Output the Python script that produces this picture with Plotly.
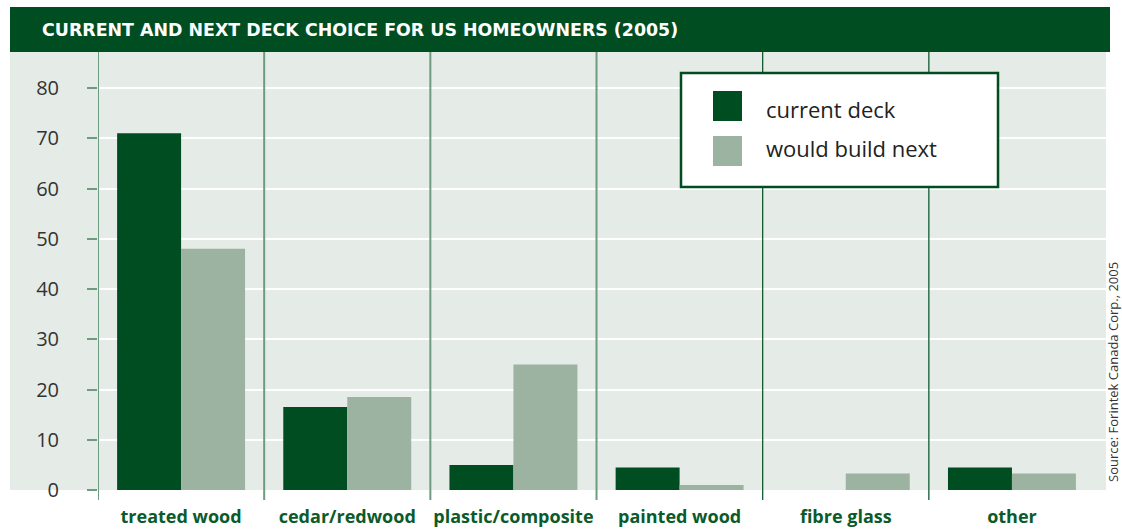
import plotly.graph_objects as go

categories = ["treated wood", "cedar/redwood", "plastic/composite", "painted wood", "fibre glass", "other"]
current_deck = [71, 16.5, 5, 4.5, 0, 4.5]
would_build_next = [48, 18.5, 25, 1, 3.3, 3.3]
y_ticks = [0, 10, 20, 30, 40, 50, 60, 70, 80]

DARK = "#004d22"
LIGHT = "#9bb3a0"
BG = "#e5ebe6"
SEP = "#6e9c7f"

W, H = 1122, 529
L, R, T, B = 98, 1106, 52, 490


def px(x):
    return (x - L) / (R - L)


def py(y):
    return (B - y) / (B - T)


fig = go.Figure()
fig.add_trace(go.Bar(x=categories, y=current_deck, name="current deck",
                     marker=dict(color=DARK, line=dict(width=0))))
fig.add_trace(go.Bar(x=categories, y=would_build_next, name="would build next",
                     marker=dict(color=LIGHT, line=dict(width=0))))

shapes = []
shapes.append(dict(type="rect", xref="paper", yref="paper", x0=px(10), x1=px(R), y0=0, y1=1,
                   fillcolor=BG, line=dict(width=0), layer="below"))
shapes.append(dict(type="rect", xref="paper", yref="paper", x0=px(10), x1=px(1110), y0=1, y1=py(7),
                   fillcolor=DARK, line=dict(width=0), layer="above"))
for i in range(len(categories)):
    col = SEP if i < 4 else DARK
    wd = 2 if i < 4 else 1.2
    shapes.append(dict(type="line", xref="x", yref="paper", x0=i - 0.5, x1=i - 0.5,
                       y0=py(500), y1=1, line=dict(color=col, width=wd), layer="above"))
shapes.append(dict(type="rect", xref="paper", yref="paper", x0=px(681), x1=px(998), y0=py(187), y1=py(73),
                   fillcolor="white", line=dict(color=DARK, width=2.5), layer="above"))
shapes.append(dict(type="rect", xref="paper", yref="paper", x0=px(713), x1=px(742), y0=py(121), y1=py(91),
                   fillcolor=DARK, line=dict(width=0), layer="above"))
shapes.append(dict(type="rect", xref="paper", yref="paper", x0=px(713), x1=px(742), y0=py(166), y1=py(136),
                   fillcolor=LIGHT, line=dict(width=0), layer="above"))

annotations = [
    dict(text="CURRENT AND NEXT DECK CHOICE FOR US HOMEOWNERS (2005)", xref="paper", yref="paper",
         x=px(40), y=py(30), xanchor="left", yanchor="middle", showarrow=False,
         font=dict(family="DejaVu Sans", size=17.4, color="white", weight=700)),
    dict(text="current deck", xref="paper", yref="paper", x=px(764), y=py(109),
         xanchor="left", yanchor="middle", showarrow=False,
         font=dict(family="Open Sans", size=22, color="#222222")),
    dict(text="would build next", xref="paper", yref="paper", x=px(764), y=py(148),
         xanchor="left", yanchor="middle", showarrow=False,
         font=dict(family="Open Sans", size=22, color="#222222")),
    dict(text="Source: Forintek Canada Corp., 2005", xref="paper", yref="paper", x=px(1113), y=py(372),
         xanchor="center", yanchor="middle", showarrow=False, textangle=-90,
         font=dict(family="Open Sans", size=13, color="#333333")),
]

fig.update_layout(
    width=W, height=H,
    margin=dict(l=L, r=W - R, t=T, b=H - B, pad=0),
    paper_bgcolor="white", plot_bgcolor=BG,
    barmode="group", bargap=0.23, bargroupgap=0,
    showlegend=False,
    shapes=shapes, annotations=annotations,
    xaxis=dict(range=[-0.5, 5.566], showgrid=False, zeroline=False, showline=False, ticks="",
               tickfont=dict(family="Open Sans", size=18, color="#0b5a2a", weight=700),
               ticklabelstandoff=14, fixedrange=True, automargin=False),
    yaxis=dict(range=[0, (B - T) / 5.025], tickvals=y_ticks, ticks="outside", ticklen=10, tickwidth=2,
               tickcolor=SEP, showgrid=True, gridcolor="white", gridwidth=1.5, zeroline=False,
               showline=False, tickfont=dict(family="Open Sans", size=20, color="#333333"),
               ticklabelstandoff=24, fixedrange=True, automargin=False),
)

fig.write_html("out.html")
